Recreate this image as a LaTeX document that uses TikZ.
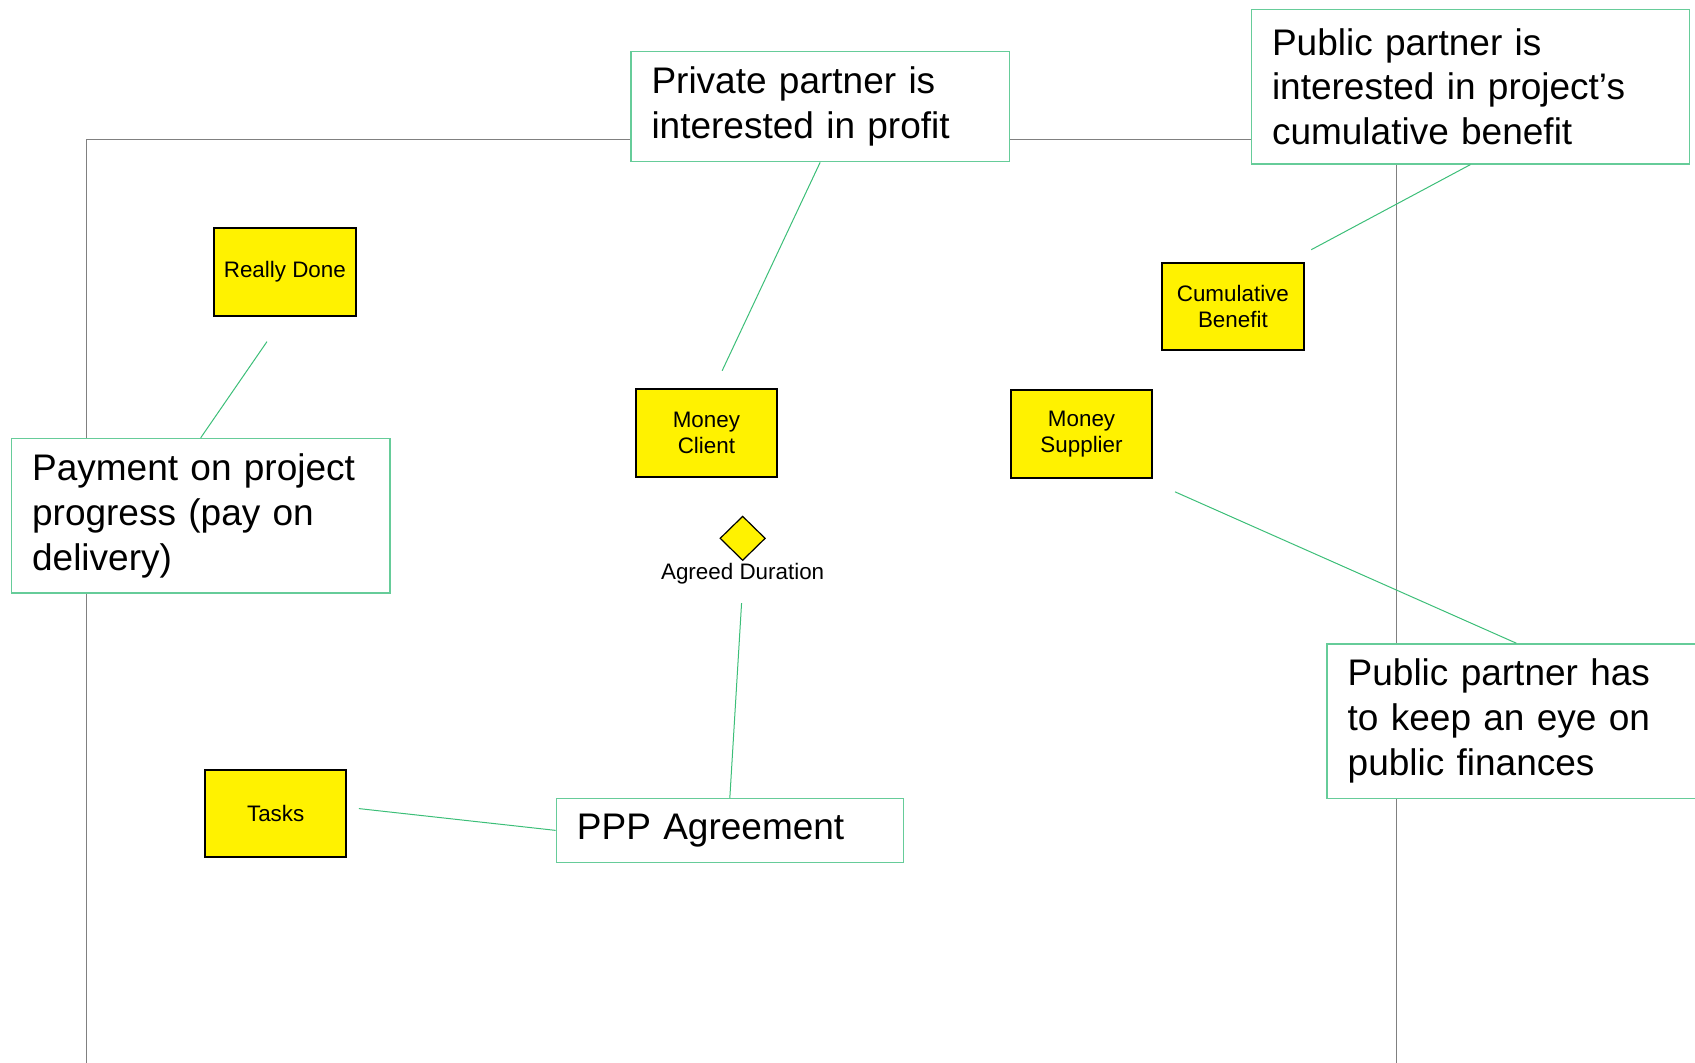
\documentclass[tikz,border=0pt]{standalone}
\usepackage{fontspec}
\setmainfont{Liberation Sans}
\usetikzlibrary{shapes.geometric}
\definecolor{notegreen}{RGB}{102,204,153}
\definecolor{linkgreen}{RGB}{60,190,120}
\tikzset{
  entity/.style={draw=black,line width=1pt,fill=yellow,minimum width=70.8pt,minimum height=43.8pt,
    inner sep=0pt,align=center,font=\fontsize{11.2}{13}\selectfont},
  note/.style={draw=notegreen,line width=0.7pt,fill=white,anchor=north west,inner xsep=10.3pt,
    inner ysep=0pt,align=left,font=\fontsize{18.5}{22.4}\selectfont},
  link/.style={draw=linkgreen,line width=0.5pt},
  frame/.style={draw=gray,line width=0.6pt}
}

\begin{document}
\begin{tikzpicture}[x=0.5405pt,y=-0.5405pt]
\useasboundingbox (0,0) rectangle (1568,983);

\draw[frame] (80,983) |- (1292,129) -- (1292,983);

\node[entity] (done) at (263.5,251.5) {Really Done};
\node[entity] (client) at (653.5,400.5) {Money\\Client};
\node[entity] (supplier) at (1000.5,401.5) {Money\\Supplier};
\node[entity] (benefit) at (1140.5,283.5) {Cumulative\\Benefit};
\node[entity] (tasks) at (255,752.5) {Tasks};

\node[diamond,draw=black,line width=0.6pt,fill=yellow,inner sep=0pt,
  minimum width=22.7pt,minimum height=22.2pt] (duration) at (687,498) {};
\node[font=\fontsize{11.2}{13}\selectfont] (durlabel) at (687,531) {Agreed Duration};

\node[note,text width=168.6pt,minimum height=55.1pt] (private) at (583,47)
  {Private partner is\\interested in profit};
\node[note,text width=198.3pt,minimum height=77.3pt] (pubbenefit) at (1157,8)
  {Public partner is\\interested in project’s\\cumulative benefit};
\node[note,text width=168.6pt,minimum height=77.3pt] (payment) at (10,405)
  {Payment on project\\progress (pay on\\delivery)};
\node[note,text width=152.9pt,minimum height=31.9pt] (ppp) at (514,738)
  {PPP Agreement};
\node[note,text width=168.6pt,minimum height=77.3pt] (pubfinance) at (1227,595)
  {Public partner has\\to keep an eye on\\public finances};

\coordinate (privend) at (668,343);
\coordinate (benefitend) at (1213,231);
\coordinate (doneend) at (247,316);
\coordinate (tasksend) at (332,748);
\coordinate (durend) at (686,558);
\coordinate (supplierend) at (1087,455);

\draw[link] (private.south) -- (privend);
\draw[link] (pubbenefit.south) -- (benefitend);
\draw[link] (payment.north) -- (doneend);
\draw[link] (ppp.west) -- (tasksend);
\draw[link] (ppp.north) -- (durend);
\draw[link] (pubfinance.north) -- (supplierend);
\end{tikzpicture}
\end{document}
